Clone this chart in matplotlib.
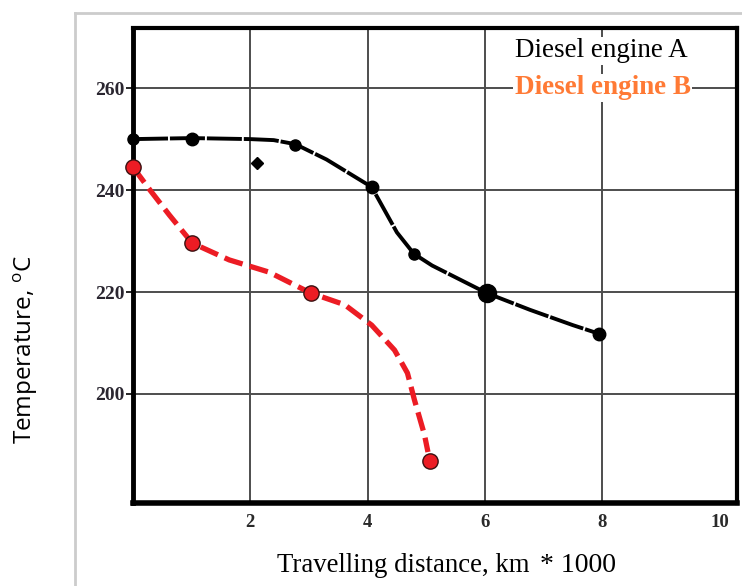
import numpy as np
import matplotlib.pyplot as plt
from matplotlib.lines import Line2D

# measured points (distance in thousands of km, temperature in C)
dist_a = [0, 1, 2.77, 4.07, 4.79, 6.03, 7.95]
temp_a = [250, 250, 248.8, 240.6, 227.5, 219.8, 211.8]
marker_size_a = [8, 9, 8, 9, 8, 13, 9]
stray_x, stray_y = [2.12], [245.3]

dist_b = [0, 1.01, 3.03, 5.07]
temp_b = [244.5, 229.6, 219.8, 186.9]

# hand drawn trend curves through the points
curve_a_x = [0, 1, 2, 2.4, 2.77, 3.3, 4.07, 4.5, 4.79, 5.1, 6.03, 6.77, 7.5, 7.95]
curve_a_y = [250, 250.2, 250, 249.8, 249, 246, 240.6, 231.7, 227.5, 225.2, 219.8, 216.5, 213.5, 211.8]
curve_b_x = [0, 0.29, 0.62, 1.01, 1.64, 2.32, 3.03, 3.61, 4.07, 4.46, 4.68, 4.8, 4.97, 5.03]
curve_b_y = [244.5, 240, 235.1, 229.6, 226.3, 223.9, 219.8, 217.5, 213.5, 208.6, 204.1, 198.8, 192, 188.6]

xticks = [2, 4, 6, 8, 10]
yticks = [200, 220, 240, 260]

W, H = 742, 586
fig = plt.figure(figsize=(W / 100, H / 100), dpi=100)
ax = fig.add_axes([133 / W, 1 - 503 / H, (737 - 133) / W, (503 - 28) / H])

ax.set_xlim(0, 10.3)
ax.set_ylim(178.6, 271.8)

# grid
for x in [2, 4, 6, 8]:
    ax.axvline(x, color='#4d4d4d', lw=1.4, zorder=1)
for y in yticks:
    ax.axhline(y, color='#4d4d4d', lw=1.4, zorder=1)

# engine A
ax.plot(curve_a_x, curve_a_y, color='black', lw=2.8, dashes=(9, 0.5), zorder=3)
for x, y, s in zip(dist_a, temp_a, marker_size_a):
    ax.plot(x, y, 'o', color='black', ms=s, zorder=4, clip_on=False)
ax.plot(stray_x, stray_y, 'D', color='black', ms=6, zorder=4)

# engine B
ax.plot(curve_b_x, curve_b_y, color='#ec1c24', lw=3.8, dashes=(3.6, 1.4), zorder=3)
ax.plot(dist_b, temp_b, 'o', color='#ec1c24', mec='#3a1010', mew=1.0, ms=11,
        zorder=4, clip_on=False)

for sp in ax.spines.values():
    sp.set_linewidth(3)
    sp.set_color('black')
ax.spines['left'].set_linewidth(3.5)
ax.spines['bottom'].set_linewidth(4)

serif = 'Liberation Serif'
ax.set_xticks(xticks)
ax.set_xticklabels([str(t) for t in xticks], fontfamily=serif, fontweight='bold',
                   fontsize=13.5, color='#2a2a2a')
ax.set_yticks(yticks)
ax.set_yticklabels([str(t) for t in yticks], fontfamily=serif, fontweight='bold',
                   fontsize=14, color='#2a2630')
ax.tick_params(axis='x', length=0, pad=8)
ax.tick_params(axis='y', length=5, width=1.2, pad=1, direction='out')

# series labels in the corner
ax.text(0.632, 0.952, 'Diesel engine A', transform=ax.transAxes, fontfamily=serif,
        fontsize=19.5, color='black', va='center', ha='left',
        bbox=dict(facecolor='white', edgecolor='none', pad=1), zorder=5)
ax.text(0.632, 0.874, 'Diesel engine B', transform=ax.transAxes, fontfamily=serif,
        fontsize=19.5, fontweight='bold', color='#ff7a35', va='center', ha='left',
        bbox=dict(facecolor='white', edgecolor='none', pad=1), zorder=5)

# axis titles
fig.text(26 / W, 1 - 350 / H, 'Temperature, $^{\\mathregular{o}}$C', rotation=90,
         fontfamily='Open Sans', fontsize=17.5, ha='center', va='center')
fig.text(277 / W, 1 - 566 / H, 'Travelling distance, km', fontfamily=serif,
         fontsize=19.3, ha='left', va='center')
fig.text(540 / W, 1 - 566 / H, '* 1000', fontfamily=serif, fontsize=20,
         ha='left', va='center')

# light page frame
fig.add_artist(Line2D([75 / W, 1], [1 - 13 / H] * 2, color='#cccccc', lw=2))
fig.add_artist(Line2D([75 / W] * 2, [0, 1 - 13 / H], color='#cccccc', lw=2))

fig.savefig('out.png', dpi=100)
